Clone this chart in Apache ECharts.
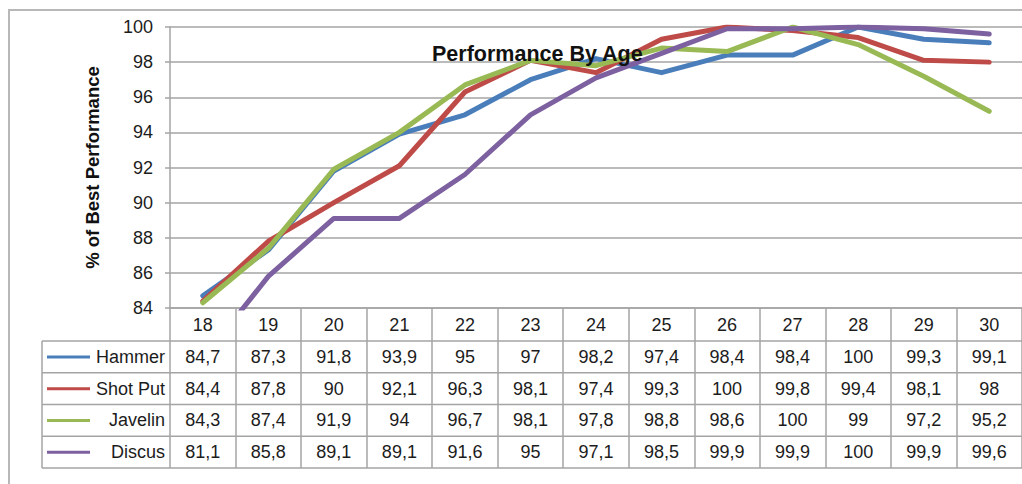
<!DOCTYPE html>
<html>
<head>
<meta charset="utf-8">
<script src="https://cdn.jsdelivr.net/npm/echarts@6/dist/echarts.min.js"></script>
<style>
  html, body { margin: 0; padding: 0; background: #ffffff; }
  #chart { width: 1022px; height: 484px; }
</style>
</head>
<body>
<div id="chart"></div>
<script>
// Age categories (x axis / table header)
const ages = ['18', '19', '20', '21', '22', '23', '24', '25', '26', '27', '28', '29', '30'];

// % of best performance per event
const hammer  = [84.7, 87.3, 91.8, 93.9, 95,   97,   98.2, 97.4, 98.4, 98.4, 100,  99.3, 99.1];
const shotPut = [84.4, 87.8, 90,   92.1, 96.3, 98.1, 97.4, 99.3, 100,  99.8, 99.4, 98.1, 98];
const javelin = [84.3, 87.4, 91.9, 94,   96.7, 98.1, 97.8, 98.8, 98.6, 100,  99,   97.2, 95.2];
const discus  = [81.1, 85.8, 89.1, 89.1, 91.6, 95,   97.1, 98.5, 99.9, 99.9, 100,  99.9, 99.6];

const seriesNames = ['Hammer', 'Shot Put', 'Javelin', 'Discus'];
const seriesData = [hammer, shotPut, javelin, discus];

// Value axis range
const yMin = 84;
const yMax = 100;
const yStep = 2;

const colors = ['#4A7EBB', '#BE4B48', '#98B954', '#7D60A0'];
const FONT = '"Liberation Sans", Arial, sans-serif';
const GRID_COLOR = '#a4a4a4';
const TEXT_COLOR = '#1c1c1c';

// decimal comma, as printed in the table
const fmt = v => String(v).replace('.', ',');

const chart = echarts.init(document.getElementById('chart'), null, { renderer: 'svg' });

const option = {
  backgroundColor: '#ffffff',
  animation: false,
  textStyle: { fontFamily: FONT },
  title: {
    text: 'Performance By Age',
    left: 432,
    top: 43,
    padding: 0,
    textStyle: { fontFamily: FONT, fontSize: 21.5, fontWeight: 'bold', color: '#111111' }
  },
  grid: { left: 170, top: 27, width: 858, height: 281, containLabel: false },
  xAxis: {
    type: 'category',
    data: ages,
    boundaryGap: true,
    axisLine: { show: true, lineStyle: { color: GRID_COLOR, width: 1.5 } },
    // long ticks at the band edges form the table's column rules
    axisTick: { show: true, length: 160, lineStyle: { color: GRID_COLOR, width: 1.5 } },
    axisLabel: { margin: 8, fontFamily: FONT, fontSize: 18, color: TEXT_COLOR, interval: 0 },
    splitLine: { show: false }
  },
  yAxis: {
    type: 'value',
    min: yMin,
    max: yMax,
    interval: yStep,
    name: '% of Best Performance',
    nameLocation: 'middle',
    nameGap: 68,
    nameRotate: 90,
    nameTextStyle: { fontFamily: FONT, fontSize: 18.5, fontWeight: 'bold', color: '#111111' },
    axisLine: { show: true, lineStyle: { color: GRID_COLOR, width: 1.5 } },
    axisTick: { show: true, length: 5, lineStyle: { color: GRID_COLOR, width: 1.5 } },
    axisLabel: { margin: 17, fontFamily: FONT, fontSize: 18, color: TEXT_COLOR },
    splitLine: { show: true, lineStyle: { color: GRID_COLOR, width: 1.5 } }
  },
  series: seriesNames.map((name, i) => ({
    name: name,
    type: 'line',
    data: seriesData[i],
    symbol: 'none',
    clip: true,
    lineStyle: { color: colors[i], width: 5, join: 'round', cap: 'round' },
    itemStyle: { color: colors[i] }
  }))
};

chart.setOption(option);

// Data table under the plot, aligned to the category axis
const tableTop = chart.convertToPixel({ yAxisIndex: 0 }, yMin) + 33;
const rowH = 31.75;
const tableLeft = 42;
const tableRight = 1040;
const labelRight = 165;
const graphics = [];

// outer frame
graphics.push({
  type: 'rect', z: -10, silent: true,
  shape: { x: 9, y: 10, width: 1100, height: 600 },
  style: { fill: 'none', stroke: '#b8b8b8', lineWidth: 2 }
});

for (let r = 0; r <= seriesNames.length; r++) {
  const y = tableTop + r * rowH;
  graphics.push({
    type: 'line', silent: true,
    shape: { x1: tableLeft, y1: y, x2: tableRight, y2: y },
    style: { stroke: GRID_COLOR, lineWidth: 1.5 }
  });
}
graphics.push({
  type: 'line', silent: true,
  shape: { x1: tableLeft, y1: tableTop, x2: tableLeft, y2: tableTop + seriesNames.length * rowH },
  style: { stroke: GRID_COLOR, lineWidth: 1.5 }
});

seriesNames.forEach((name, r) => {
  const cy = tableTop + r * rowH + rowH / 2;
  graphics.push({
    type: 'line', silent: true,
    shape: { x1: 47, y1: cy, x2: 90, y2: cy },
    style: { stroke: colors[r], lineWidth: 3 }
  });
  graphics.push({
    type: 'text', silent: true,
    x: labelRight, y: cy,
    style: { text: name, align: 'right', verticalAlign: 'middle', font: '18px ' + FONT, fill: TEXT_COLOR }
  });
  seriesData[r].forEach((v, c) => {
    const cx = chart.convertToPixel({ xAxisIndex: 0 }, c);
    graphics.push({
      type: 'text', silent: true,
      x: cx, y: cy,
      style: { text: fmt(v), align: 'center', verticalAlign: 'middle', font: '18px ' + FONT, fill: TEXT_COLOR }
    });
  });
});

chart.setOption({ graphic: graphics });
</script>
</body>
</html>
